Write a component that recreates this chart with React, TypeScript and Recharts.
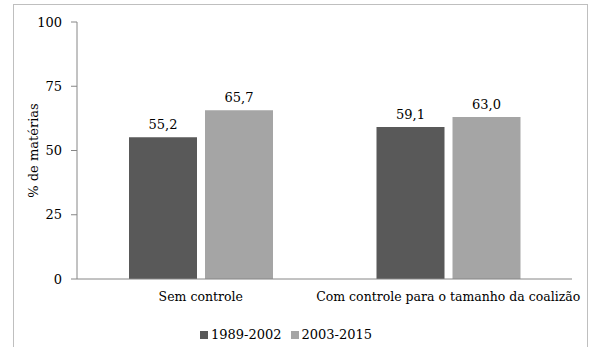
import React from "react";
import { Bar, BarChart, LabelList, Legend, XAxis, YAxis } from "recharts";

const categories = ["Sem controle", "Com controle para o tamanho da coalizão"];
const periodoA = [55.2, 59.1];
const periodoB = [65.7, 63.0];
const yTicks = [0, 25, 50, 75, 100];
const seriesNames = ["1989-2002", "2003-2015"];

const DARK = "#595959";
const LIGHT = "#a5a5a5";
const AXIS = "#868686";
const FONT = "DejaVu Serif";

const data = categories.map((name, i) => ({ name, a: periodoA[i], b: periodoB[i] }));

const fmt = (v: unknown) => (typeof v === "number" ? v.toFixed(1).replace(".", ",") : String(v));

function LegendContent() {
  const colors = [DARK, LIGHT];
  return (
    <div style={{ display: "flex", justifyContent: "center", fontFamily: FONT, fontSize: 13, color: "#000" }}>
      {seriesNames.map((s, i) => (
        <span key={s} style={{ display: "inline-flex", alignItems: "center", marginRight: i === 0 ? 9 : 0 }}>
          <span style={{ width: 8, height: 8, background: colors[i], display: "inline-block", marginRight: 3 }} />
          {s}
        </span>
      ))}
    </div>
  );
}

export default function App() {
  return (
    <div
      style={{
        position: "absolute",
        left: 0,
        top: 0,
        width: 590,
        height: 347,
        background: "#fff",
        overflow: "hidden",
        fontFamily: FONT,
      }}
    >
      <div
        style={{
          position: "absolute",
          left: 13,
          top: 4,
          width: 575,
          height: 360,
          border: "1px solid #bfbfbf",
          boxSizing: "border-box",
        }}
      />
      <BarChart
        width={590}
        height={347}
        data={data}
        margin={{ top: 22, right: 18, bottom: 0, left: 0 }}
        barSize={68}
        barGap={8}
        style={{ position: "absolute", left: 0, top: 0, fontFamily: FONT }}
      >
        <XAxis
          dataKey="name"
          stroke={AXIS}
          tickLine={false}
          tickMargin={7}
          height={40}
          tick={{ fontFamily: FONT, fontSize: 12.5, fill: "#000" }}
        />
        <YAxis
          domain={[0, 100]}
          ticks={yTicks}
          width={77}
          stroke={AXIS}
          tickSize={6}
          tickMargin={9}
          tick={{ fontFamily: FONT, fontSize: 13, fill: "#000" }}
          label={{
            value: "% de matérias",
            angle: -90,
            position: "insideLeft",
            offset: 33,
            style: { fontFamily: FONT, fontSize: 13, fill: "#000", textAnchor: "middle" },
          }}
        />
        <Legend
          content={<LegendContent />}
          verticalAlign="bottom"
          height={28}
          wrapperStyle={{ bottom: -8 }}
        />
        <Bar dataKey="a" name={seriesNames[0]} fill={DARK} isAnimationActive={false}>
          <LabelList dataKey="a" position="top" offset={8} formatter={fmt} style={{ fontFamily: FONT, fontSize: 13, fill: "#000" }} />
        </Bar>
        <Bar dataKey="b" name={seriesNames[1]} fill={LIGHT} isAnimationActive={false}>
          <LabelList dataKey="b" position="top" offset={8} formatter={fmt} style={{ fontFamily: FONT, fontSize: 13, fill: "#000" }} />
        </Bar>
      </BarChart>
    </div>
  );
}
